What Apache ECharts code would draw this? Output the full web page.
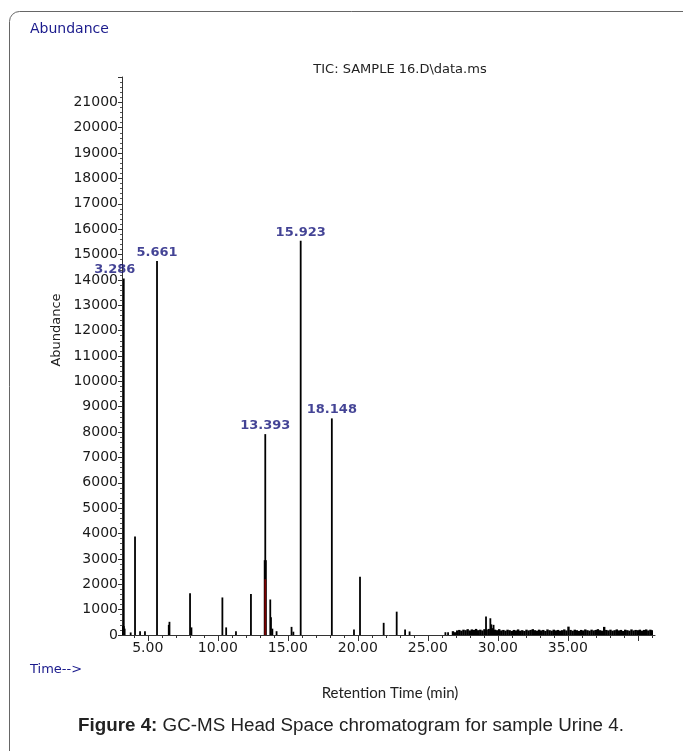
<!DOCTYPE html>
<html><head><meta charset="utf-8">
<script src="https://cdn.jsdelivr.net/npm/echarts@6/dist/echarts.min.js"></script>
<style>html,body{margin:0;padding:0;background:#fff}#c{width:683px;height:751px}</style>
</head><body><div id="c"></div>
<script>
// ---- data (retention time in min, abundance) ----
const peaks = [
  [3.20,350],[3.286,14060],[3.35,250],[3.78,100],[4.09,3880],[4.45,150],[4.80,150],
  [5.661,14750],[6.50,400],[6.55,520],[8.02,1650],[8.12,300],[10.33,1480],[10.60,300],
  [11.30,150],[12.37,1620],[13.393,7920],[13.75,1400],[13.80,700],[13.90,250],[14.20,150],
  [15.27,320],[15.40,130],[15.923,15540],[18.148,8540],[19.73,220],[20.16,2300],
  [21.85,480],[22.78,920],[23.38,220],[23.70,140],[26.26,110],[26.45,110],
  [29.16,730],[29.47,660],[29.54,420],[29.70,400]
];
const thickPeaks = [[13.393,2950],[3.25,350]];
const redPeaks = [[13.393,2200]];
const noise = [
  [26.80,150],[26.95,110],[27.10,180],[27.25,200],[27.40,170],[27.55,210],[27.70,190],[27.85,230],
  [28.00,180],[28.15,220],[28.30,200],[28.45,240],[28.60,190],[28.75,210],[28.90,180],[29.05,230],
  [29.20,200],[29.35,240],[29.50,220],[29.65,270],[29.80,210],[29.95,190],[30.10,230],[30.25,180],
  [30.40,200],[30.55,170],[30.70,210],[30.85,190],[31.00,160],[31.15,200],[31.30,180],[31.45,220],
  [31.60,170],[31.75,190],[31.90,160],[32.05,210],[32.20,180],[32.35,200],[32.50,230],[32.65,190],
  [32.80,170],[32.95,210],[33.10,180],[33.25,200],[33.40,160],[33.55,220],[33.70,190],[33.85,170],
  [34.00,210],[34.15,180],[34.30,200],[34.45,170],[34.60,190],[34.75,220],[34.90,180],[35.05,330],
  [35.20,200],[35.35,170],[35.50,210],[35.65,190],[35.80,160],[35.95,200],[36.10,180],[36.25,220],
  [36.40,190],[36.55,170],[36.70,210],[36.85,180],[37.00,200],[37.15,230],[37.30,190],[37.45,170],
  [37.60,320],[37.75,200],[37.90,180],[38.05,210],[38.20,170],[38.35,190],[38.50,220],[38.65,180],
  [38.80,200],[38.95,160],[39.10,210],[39.25,190],[39.40,170],[39.55,220],[39.70,180],[39.85,200],
  [40.00,190],[40.15,210],[40.30,170],[40.45,200],[40.60,220],[40.75,180],[40.90,210],[41.00,190]
];
const labelledPeaks = [[3.286,14060],[5.661,14750],[13.393,7920],[15.923,15540],[18.148,8540]];
const peakLabels = ['3.286','5.661','13.393','15.923','18.148'];
const xLabelValues = [5,10,15,20,25,30,35];
const xMajorTicks = [5,10,15,20,25,30,35,40];
const xMinorTicks = [4,6,7,8,9,11,12,13,14,16,17,18,19,21,22,23,24,26,27,28,29,31,32,33,34,36,37,38,39,41];
const yMin = 0, yMax = 22000, yStep = 1000, yLastLabel = 21000;
const xMin = 3.16, xMax = 41.23;

function stick(width, color){
  return function(params, api){
    const p0 = api.coord([api.value(0), 0]);
    const p1 = api.coord([api.value(0), api.value(1)]);
    return {type:'rect', shape:{x:p0[0]-width/2, y:p1[1], width:width, height:p0[1]-p1[1]}, style:{fill:color}};
  };
}

const chart = echarts.init(document.getElementById('c'), null, {renderer:'canvas'});
const axisFont = {fontFamily:'DejaVu Sans', fontSize:14, color:'#1a1a1a'};
chart.setOption({
  animation:false,
  backgroundColor:'#fff',
  grid:{left:122, right:28, top:77, bottom:116},
  xAxis:[{
    type:'value', min:xMin, max:xMax,
    axisLine:{show:true, lineStyle:{color:'#333', width:1}},
    axisTick:{show:true, customValues:xMajorTicks, length:6, lineStyle:{color:'#333'}},
    axisLabel:Object.assign({customValues:xLabelValues, margin:6, formatter:v=>v.toFixed(2)}, axisFont),
    splitLine:{show:false}
  },{
    type:'value', min:xMin, max:xMax, position:'bottom',
    axisLine:{show:false},
    axisTick:{show:true, customValues:xMinorTicks, length:3, lineStyle:{color:'#333'}},
    axisLabel:{show:false}, splitLine:{show:false}
  }],
  yAxis:{
    type:'value', min:yMin, max:yMax, interval:yStep,
    axisLine:{show:true, lineStyle:{color:'#333', width:1}},
    axisTick:{show:true, length:4, lineStyle:{color:'#333'}},
    minorTick:{show:true, splitNumber:5, length:2, lineStyle:{color:'#555'}},
    axisLabel:Object.assign({margin:4, formatter:v=> v>yLastLabel ? '' : String(v)}, axisFont),
    splitLine:{show:false}
  },
  graphic:[
    {type:'rect', shape:{x:9.5, y:11.5, width:720, height:800, r:10}, style:{fill:'none', stroke:'#666', lineWidth:1}, z:-1},
    {type:'text', left:30, top:22, style:{text:'Abundance', fill:'#1a1a8c', font:'14px "DejaVu Sans"'}},
    {type:'text', x:400, y:70, style:{text:'TIC: SAMPLE 16.D\\data.ms', fill:'#222', font:'13px "DejaVu Sans"', align:'center', verticalAlign:'middle'}},
    {type:'text', x:57, y:330, rotation:Math.PI/2, style:{text:'Abundance', fill:'#222', font:'13px "DejaVu Sans"', align:'center', verticalAlign:'middle'}},
    {type:'text', x:30, y:670, style:{text:'Time-->', fill:'#1a1a8c', font:'13px "DejaVu Sans"', verticalAlign:'middle'}},
    {type:'text', x:390, y:693, style:{text:'Retention Time (min)', fill:'#222', font:'15px Lato', align:'center', verticalAlign:'middle'}},
    {type:'text', x:351, y:726, style:{text:'{b|Figure 4:} GC-MS Head Space chromatogram for sample Urine 4.', fill:'#222', font:'18.8px "Liberation Sans"', align:'center', verticalAlign:'middle',
      rich:{b:{fontWeight:'bold', fontSize:18.8, fontFamily:'Liberation Sans', fill:'#222'}}}}
  ],
  series:[
    {type:'custom', renderItem:stick(2.4,'#000'), data:noise, clip:true, encode:{x:0,y:1}},
    {type:'custom', renderItem:stick(1.8,'#000'), data:peaks, clip:true, encode:{x:0,y:1}},
    {type:'custom', renderItem:stick(3,'#000'), data:thickPeaks, clip:true, encode:{x:0,y:1}},
    {type:'custom', renderItem:stick(1.8,'#7a0000'), data:redPeaks, clip:true, encode:{x:0,y:1}},
    {type:'scatter', symbolSize:0, data:labelledPeaks.map((p,i)=>({value:p, label:i===0?{offset:[-9,0]}:{}})),
      label:{show:true, position:'top', distance:2, formatter:p=>peakLabels[p.dataIndex], color:'#14147a', fontFamily:'DejaVu Sans', fontWeight:'bold', fontSize:13}}
  ]
});
</script>
</body></html>
